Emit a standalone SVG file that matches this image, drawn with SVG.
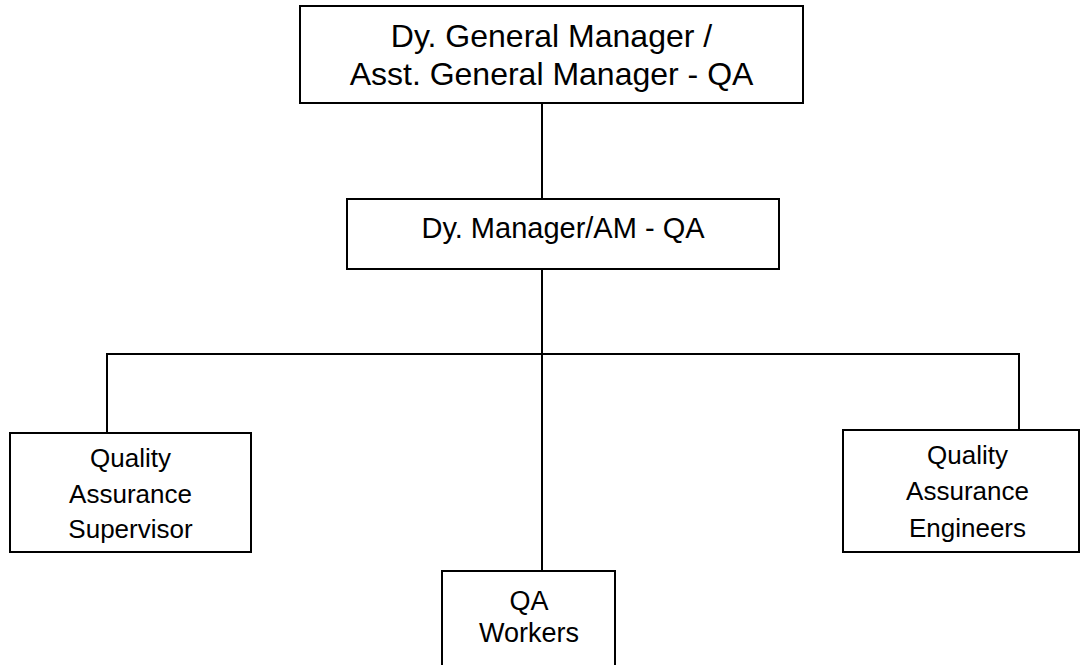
<svg xmlns="http://www.w3.org/2000/svg" width="1081" height="665" viewBox="0 0 1081 665">
<style>
.box{fill:#fff;stroke:#000;stroke-width:2}
.ln{fill:none;stroke:#000;stroke-width:2}
text{font-family:"Liberation Sans",Arial,sans-serif;fill:#000;text-anchor:middle}
</style>
<rect width="1081" height="665" fill="#fff"/>
<g id="connectors">
<line class="ln" x1="542" y1="103" x2="542" y2="199"/>
<line class="ln" x1="542" y1="269" x2="542" y2="571"/>
<line class="ln" x1="106" y1="354" x2="1020" y2="354"/>
<line class="ln" x1="107" y1="354" x2="107" y2="433"/>
<line class="ln" x1="1019" y1="354" x2="1019" y2="430"/>
</g>
<g id="gm">
<rect class="box" x="300" y="6" width="503" height="97"/>
<text x="551.5" y="47" font-size="32">Dy. General Manager /</text>
<text x="551.5" y="85" font-size="32">Asst. General Manager - QA</text>
</g>
<g id="dm">
<rect class="box" x="347" y="199" width="432" height="70"/>
<text x="563" y="238" font-size="29">Dy. Manager/AM - QA</text>
</g>
<g id="qas">
<rect class="box" x="10" y="433" width="241" height="119"/>
<text x="130.5" y="467" font-size="26">Quality</text>
<text x="130.5" y="502.5" font-size="26">Assurance</text>
<text x="130.5" y="538" font-size="26">Supervisor</text>
</g>
<g id="qae">
<rect class="box" x="843" y="430" width="236" height="122"/>
<text x="967.5" y="464" font-size="26">Quality</text>
<text x="967.5" y="500" font-size="26">Assurance</text>
<text x="967.5" y="537" font-size="26">Engineers</text>
</g>
<g id="qaw">
<rect class="box" x="442" y="571" width="173" height="110"/>
<text x="529" y="610" font-size="27">QA</text>
<text x="529" y="642" font-size="27">Workers</text>
</g>
</svg>
